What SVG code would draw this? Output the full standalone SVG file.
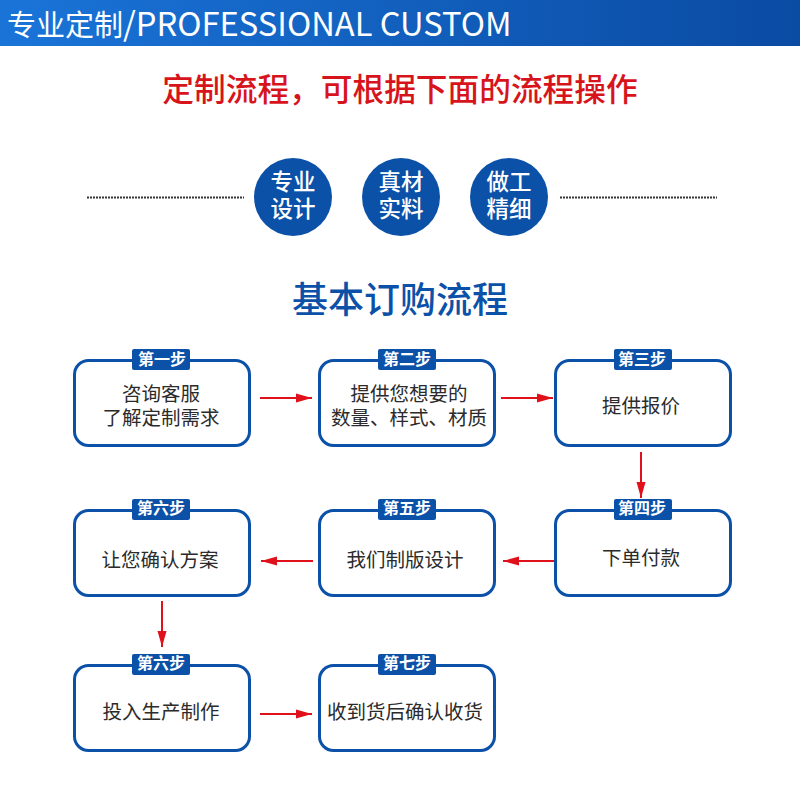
<svg xmlns="http://www.w3.org/2000/svg" width="800" height="800" viewBox="0 0 800 800">
<style>
text{font-family:"Noto Sans CJK SC","Noto Sans",sans-serif;text-anchor:middle}
.box{fill:#fff;stroke:#0b51a8;stroke-width:3}
.tag{fill:#0b51a8}
.tagt{fill:#fff;font-size:16px;font-weight:700}
.t{fill:#2b2b2b;font-size:19.500px}
.c{fill:#0b51a8}
.ct{fill:#fff;font-size:22.500px;font-weight:500}
.ar{stroke:#e0111b;stroke-width:2;fill:none;marker-end:url(#ah)}
.dot{stroke:#333;stroke-width:2;stroke-dasharray:2 1;fill:none}
</style>
<defs>
<linearGradient id="g" x1="0" y1="0" x2="1" y2="0"><stop offset="0" stop-color="#1a74d8"/><stop offset="1" stop-color="#0a4ba3"/></linearGradient>
<marker id="ah" markerUnits="userSpaceOnUse" markerWidth="18" markerHeight="12" refX="16" refY="6" orient="auto"><path d="M0 1.500L16 6L0 10.500Z" fill="#e0111b"/></marker>
</defs>
<rect width="800" height="800" fill="#fff"/>
<g id="header">
<rect x="0" y="0" width="800" height="46" fill="url(#g)"/>
<text x="7" y="36" style="text-anchor:start;font-size:29px" fill="#fff">专业定制<tspan style="font-size:32.700px">/PROFESSIONAL CUSTOM</tspan></text>
</g>
<text x="400" y="101" style="font-size:31.700px;font-weight:500" fill="#d7141c">定制流程，可根据下面的流程操作</text>
<g id="dots">
<line class="dot" x1="87" y1="197.500" x2="244" y2="197.500"/>
<line class="dot" x1="560" y1="197.500" x2="717" y2="197.500"/>
</g>
<g id="c1"><circle class="c" cx="293" cy="197" r="39"/><text class="ct" x="293" y="190">专业</text><text class="ct" x="293" y="217">设计</text></g>
<g id="c2"><circle class="c" cx="401" cy="197" r="39"/><text class="ct" x="401" y="190">真材</text><text class="ct" x="401" y="217">实料</text></g>
<g id="c3"><circle class="c" cx="509" cy="197" r="39"/><text class="ct" x="509" y="190">做工</text><text class="ct" x="509" y="217">精细</text></g>
<text x="400" y="313" style="font-size:36px;font-weight:500" fill="#0b51a8">基本订购流程</text>
<g id="connectors">
<line class="ar" x1="260" y1="398" x2="312" y2="398"/>
<line class="ar" x1="501" y1="398" x2="553" y2="398"/>
<line class="ar" x1="641" y1="452" x2="641" y2="498"/>
<line class="ar" x1="554" y1="561" x2="503" y2="561"/>
<line class="ar" x1="313" y1="561" x2="261" y2="561"/>
<line class="ar" x1="162" y1="601" x2="162" y2="647"/>
<line class="ar" x1="260" y1="714" x2="312" y2="714"/>
</g>
<g id="s1"><rect class="box" x="74.500" y="360.500" width="175" height="85" rx="14"/><rect class="tag" x="132" y="349" width="58" height="21" rx="2"/><text class="tagt" x="162" y="365">第一步</text><text class="t" x="161" y="401">咨询客服</text><text class="t" x="161" y="425">了解定制需求</text></g>
<g id="s2"><rect class="box" x="319.500" y="360.500" width="175" height="85" rx="14"/><rect class="tag" x="378" y="349" width="58" height="21" rx="2"/><text class="tagt" x="407" y="365">第二步</text><text class="t" x="409" y="401">提供您想要的</text><text class="t" x="409" y="425">数量、样式、材质</text></g>
<g id="s3"><rect class="box" x="555.500" y="360.500" width="175" height="85" rx="14"/><rect class="tag" x="614" y="349" width="58" height="21" rx="2"/><text class="tagt" x="642" y="365">第三步</text><text class="t" x="641" y="413">提供报价</text></g>
<g id="s4"><rect class="box" x="555.500" y="510.500" width="175" height="85" rx="14"/><rect class="tag" x="614" y="499" width="58" height="21" rx="2"/><text class="tagt" x="642" y="514">第四步</text><text class="t" x="641" y="565">下单付款</text></g>
<g id="s5"><rect class="box" x="319.500" y="510.500" width="175" height="85" rx="14"/><rect class="tag" x="378" y="499" width="58" height="21" rx="2"/><text class="tagt" x="407" y="514">第五步</text><text class="t" x="405" y="567">我们制版设计</text></g>
<g id="s6"><rect class="box" x="74.500" y="510.500" width="175" height="85" rx="14"/><rect class="tag" x="132" y="499" width="58" height="21" rx="2"/><text class="tagt" x="161" y="514">第六步</text><text class="t" x="160" y="567">让您确认方案</text></g>
<g id="s7"><rect class="box" x="74.500" y="665.500" width="175" height="85" rx="14"/><rect class="tag" x="132" y="654" width="58" height="21" rx="2"/><text class="tagt" x="161" y="669">第六步</text><text class="t" x="161" y="719">投入生产制作</text></g>
<g id="s8"><rect class="box" x="319.500" y="665.500" width="175" height="85" rx="14"/><rect class="tag" x="378" y="654" width="58" height="21" rx="2"/><text class="tagt" x="407" y="669">第七步</text><text class="t" x="405" y="719">收到货后确认收货</text></g>
</svg>
